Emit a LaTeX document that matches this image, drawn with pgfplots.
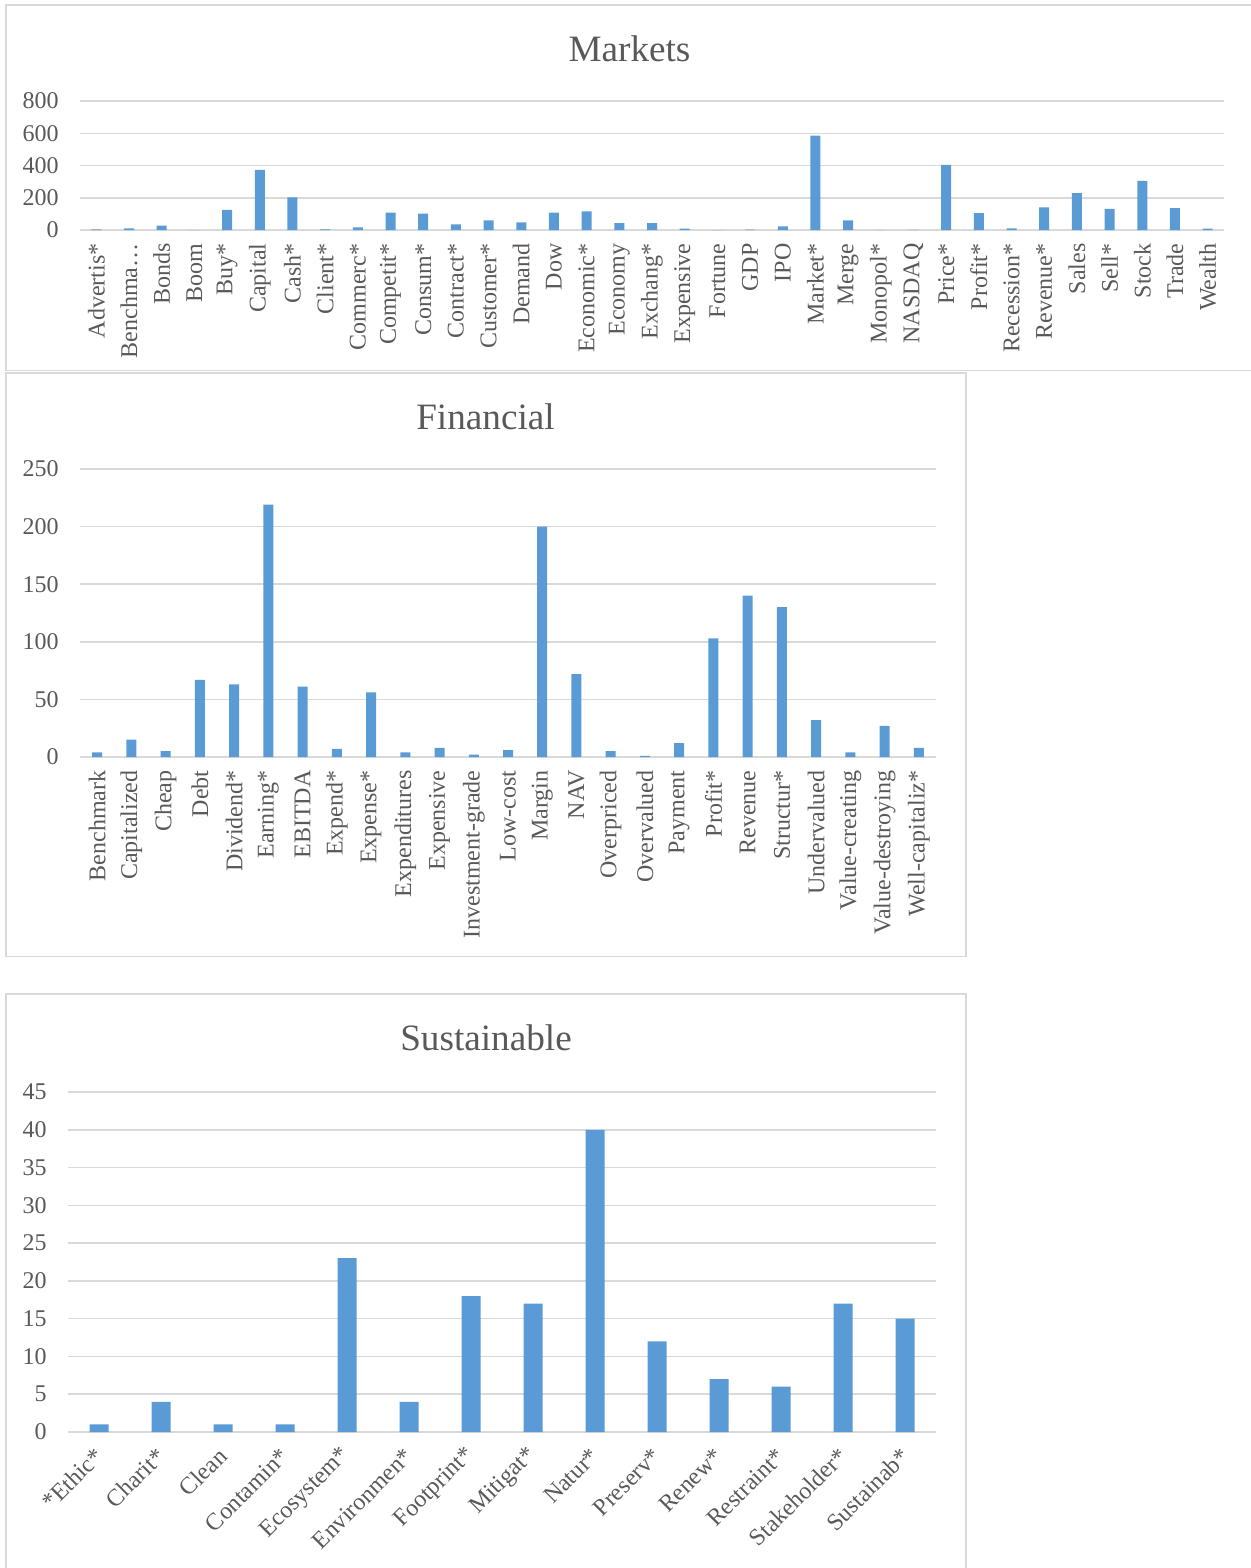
\documentclass[border=0pt]{standalone}
\usepackage{fontspec}
\setmainfont{Liberation Serif}
\usepackage{pgfplots}
\pgfplotsset{compat=1.18}

\definecolor{barblue}{HTML}{5B9BD5}
\definecolor{gridgray}{HTML}{D9D9D9}
\definecolor{textgray}{HTML}{595959}

% common look of the three keyword-count panels
\pgfplotsset{
  panel/.style={
    scale only axis,
    anchor=north west,
    axis line style={draw=none},
    ymin=0,
    ymajorgrids,
    grid style={gridgray, line width=0.75pt},
    major tick length=0pt,
    tick label style={font=\fontsize{12}{14}\selectfont, text=textgray, inner sep=0pt},
    /pgf/number format/assume math mode=true,
    yticklabel shift=10.5pt,
    xtick=data,
    ybar,
    clip=false,
  },
  vlabels/.style={
    x tick label style={rotate=90, anchor=east},
    xticklabel shift=6.5pt,
  },
  panelbar/.style={fill=barblue, draw=none},
}

\begin{document}
\begin{tikzpicture}
\path[use as bounding box] (0,0) rectangle (625.5pt,-784pt);
\clip (0,0) rectangle (625.5pt,-784pt);

% chart frames
\draw[gridgray, line width=0.75pt] (3pt,-2.5pt) rectangle (640pt,-185.25pt);
\draw[gridgray, line width=0.75pt] (3pt,-186.5pt) rectangle (483pt,-478.3pt);
\draw[gridgray, line width=0.75pt] (3pt,-497pt) rectangle (483pt,-800pt);

% titles
\node[anchor=base, text=textgray, font=\fontsize{18.6}{22}\selectfont, inner sep=0pt] at (314.75pt,-31pt) {Markets};
\node[anchor=base, text=textgray, font=\fontsize{18.6}{22}\selectfont, inner sep=0pt] at (242.75pt,-214.5pt) {Financial};
\node[anchor=base, text=textgray, font=\fontsize{18.6}{22}\selectfont, inner sep=0pt] at (243pt,-525pt) {Sustainable};

% ---------------- Markets ----------------
\begin{axis}[panel, vlabels,
  at={(40pt,-50.5pt)}, width=572pt, height=64.5pt,
  xmin=-0.5, xmax=34.5, ymax=800,
  ytick={0,200,400,600,800}, yticklabels={0,200,400,600,800},
  bar width=5pt,
  xticklabels={Advertis*,Benchma…,Bonds,Boom,Buy*,Capital,Cash*,Client*,Commerc*,Competit*,Consum*,Contract*,Customer*,Demand,Dow,Economic*,Economy,Exchang*,Expensive,Fortune,GDP,IPO,Market*,Merge,Monopol*,NASDAQ,Price*,Profit*,Recession*,Revenue*,Sales,Sell*,Stock,Trade,Wealth},
]
\addplot[panelbar] coordinates {
  (0,4) (1,10) (2,27) (3,0) (4,125) (5,373) (6,202) (7,4) (8,17) (9,108)
  (10,102) (11,35) (12,60) (13,48) (14,108) (15,115) (16,42) (17,42) (18,8) (19,0)
  (20,2) (21,23) (22,585) (23,60) (24,0) (25,1) (26,404) (27,104) (28,10) (29,140)
  (30,229) (31,131) (32,304) (33,135) (34,8)
};
\end{axis}

% ---------------- Financial ----------------
\begin{axis}[panel, vlabels,
  at={(40pt,-234.5pt)}, width=428pt, height=144pt,
  xmin=-0.5, xmax=24.5, ymax=250,
  ytick={0,50,100,150,200,250}, yticklabels={0,50,100,150,200,250},
  bar width=5pt,
  xticklabels={Benchmark,Capitalized,Cheap,Debt,Dividend*,Earning*,EBITDA,Expend*,Expense*,Expenditures,Expensive,Investment-grade,Low-cost,Margin,NAV,Overpriced,Overvalued,Payment,Profit*,Revenue,Structur*,Undervalued,Value-creating,Value-destroying,Well-capitaliz*},
]
\addplot[panelbar] coordinates {
  (0,4) (1,15) (2,5) (3,67) (4,63) (5,219) (6,61) (7,7) (8,56) (9,4)
  (10,8) (11,2) (12,6) (13,200) (14,72) (15,5) (16,1) (17,12) (18,103) (19,140)
  (20,130) (21,32) (22,4) (23,27) (24,8)
};
\end{axis}

% ---------------- Sustainable ----------------
\begin{axis}[panel,
  at={(34pt,-546pt)}, width=434pt, height=170pt,
  xmin=-0.5, xmax=13.5, ymax=45,
  ytick={0,5,10,15,20,25,30,35,40,45}, yticklabels={0,5,10,15,20,25,30,35,40,45},
  bar width=9.5pt,
  x tick label style={rotate=45, anchor=east},
  xticklabel shift=10pt,
  xticklabels={*Ethic*,Charit*,Clean,Contamin*,Ecosystem*,Environmen*,Footprint*,Mitigat*,Natur*,Preserv*,Renew*,Restraint*,Stakeholder*,Sustainab*},
]
\addplot[panelbar] coordinates {
  (0,1) (1,4) (2,1) (3,1) (4,23) (5,4) (6,18) (7,17) (8,40) (9,12)
  (10,7) (11,6) (12,17) (13,15)
};
\end{axis}
\end{tikzpicture}
\end{document}
